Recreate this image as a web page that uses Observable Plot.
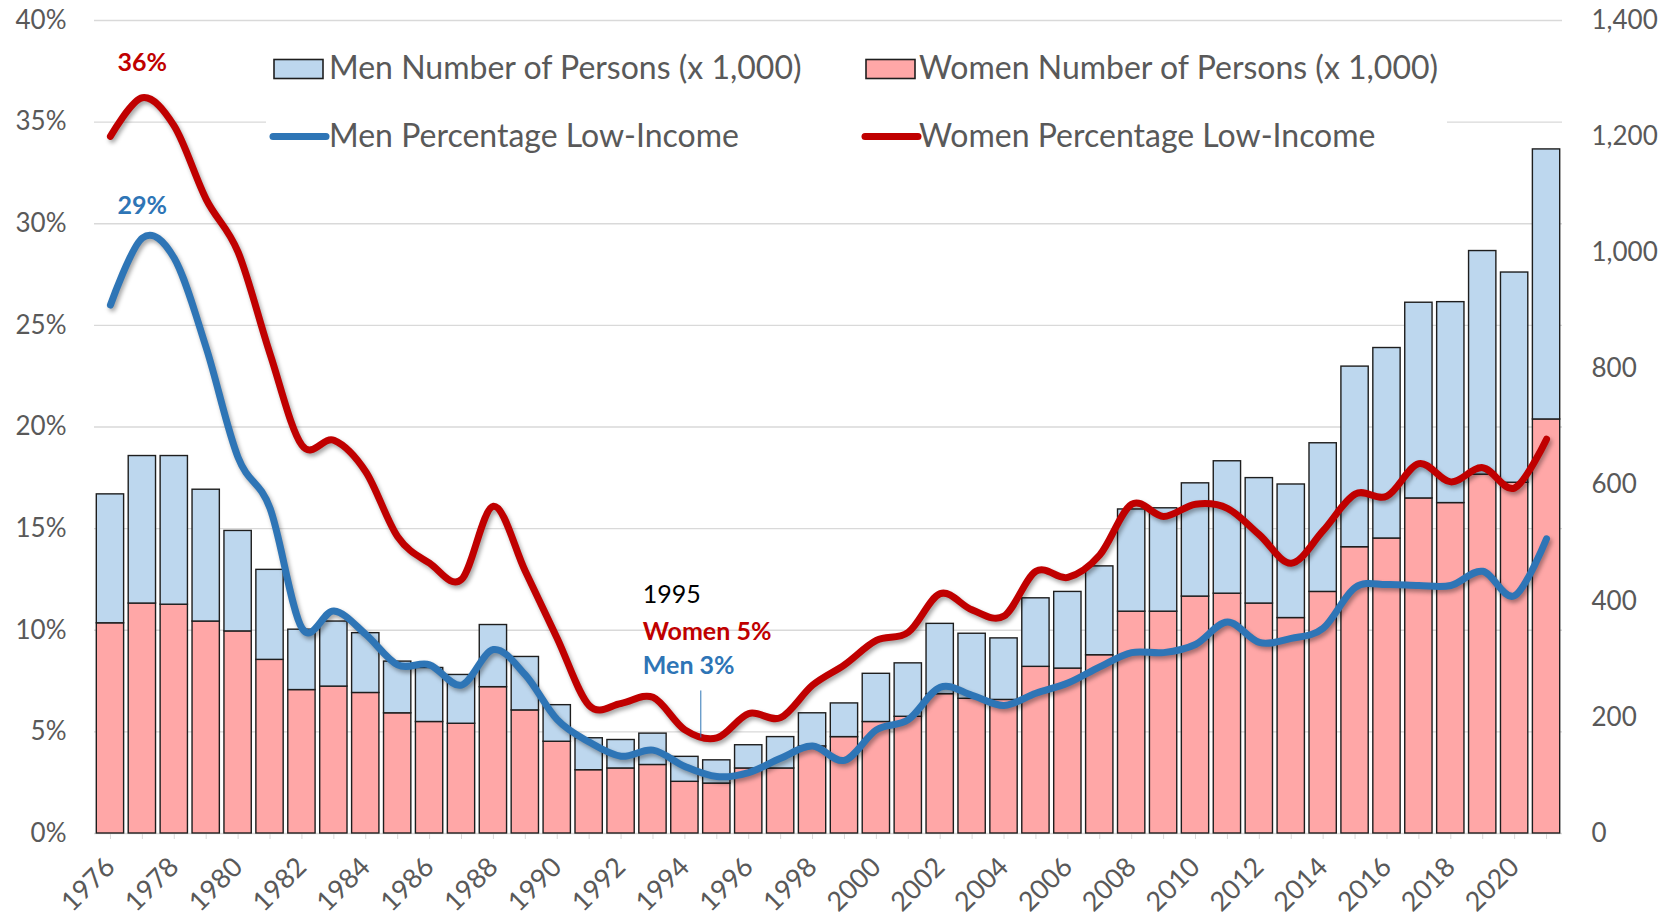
<!DOCTYPE html>
<html>
<head>
<meta charset="utf-8">
<script src="https://cdn.jsdelivr.net/npm/d3@7"></script>
<script src="https://cdn.jsdelivr.net/npm/@observablehq/plot@0.6"></script>
<style>
  body { margin: 0; background: #fff; }
  #wrap { position: relative; width: 1665px; height: 917px; }
  #wrap svg g[aria-label="line"] path { filter: drop-shadow(2px 3px 2px rgba(0,0,0,0.35)); }
</style>
</head>
<body>
<div id="wrap"></div>
<script>
// ---- data ----
const years = [1976,1977,1978,1979,1980,1981,1982,1983,1984,1985,1986,1987,1988,1989,1990,1991,1992,1993,1994,1995,1996,1997,1998,1999,2000,2001,2002,2003,2004,2005,2006,2007,2008,2009,2010,2011,2012,2013,2014,2015,2016,2017,2018,2019,2020,2021];
const womenCount = [362,396,394,365,348,299,247,253,242,207, 192,189,252,212,158,109,112,118,89,86, 112,112,150,166,192,201,240,232,230,287, 284,307,382,382,408,413,396,371,416,493, 508,577,569,618,604,713];
const menCount = [222,254,256,227,173,155,104,112,103,89, 93,84,107,92,63,55,49,54,43,40, 40,54,57,58,83,92,121,112,106,118, 132,153,176,178,195,228,216,230,256,311, 328,337,346,385,362,465];
const womenPct = [34.3,36.2,34.8,31.2,28.6,23.6,19.1,19.35,17.8,14.6, 13.3,12.5,16.1,12.9,9.6,6.3,6.4,6.7,5.1,4.7, 5.9,5.7,7.3,8.3,9.5,9.9,11.8,11.0,10.7,12.9, 12.6,13.7,16.2,15.6,16.2,16.0,14.7,13.3,14.9,16.7, 16.6,18.2,17.3,18.0,17.0,19.4];
const menPct = [26.0,29.3,28.3,23.9,18.5,16.0,10.1,10.95,9.8,8.3, 8.3,7.3,9.05,7.8,5.6,4.5,3.8,4.1,3.3,2.8, 3.0,3.7,4.3,3.6,5.1,5.6,7.2,6.8,6.3,6.9, 7.4,8.2,8.9,8.9,9.3,10.4,9.4,9.6,10.1,12.1, 12.25,12.2,12.2,12.9,11.7,14.5];
const leftTicks = [0,5,10,15,20,25,30,35,40];
const rightTicks = [0,200,400,600,800,1000,1200,1400];
const labelYears = [1976,1978,1980,1982,1984,1986,1988,1990,1992,1994,1996,1998,2000,2002,2004,2006,2008,2010,2012,2014,2016,2018,2020];
const legendBarLabels = ["Men Number of Persons (x 1,000)", "Women Number of Persons (x 1,000)"];
const legendLineLabels = ["Men Percentage Low-Income", "Women Percentage Low-Income"];
const noteYear = 1995;

// ---- styles ----
const menFill = "#BDD7EE", womenFill = "#FFA7A7";
const menColor = "#2E75B6", womenColor = "#C00000";
const grey = "#595959";
const font = "Lato, 'Open Sans', sans-serif";

// ---- derived tables ----
const pctMax = 40, countMax = 1400;
const toPct = c => c * pctMax / countMax;
const bars = years.flatMap((year, i) => [
  {year, sex: "Women", y1: 0, y2: toPct(womenCount[i])},
  {year, sex: "Men", y1: toPct(womenCount[i]), y2: toPct(womenCount[i] + menCount[i])}
]);
const pts = years.map((year, i) => ({year, women: womenPct[i], men: menPct[i]}));
const iW = womenPct.indexOf(d3.max(womenPct));
const iM = menPct.indexOf(d3.max(menPct));
const note = pts[years.indexOf(noteYear)];

const chart = Plot.plot({
  width: 1665,
  height: 917,
  marginLeft: 94,
  marginRight: 103,
  marginTop: 20,
  marginBottom: 84,
  x: {domain: [years[0] - 0.5, years[years.length - 1] + 0.5], axis: null, label: null},
  y: {domain: [0, pctMax], axis: null, label: null},
  style: {fontFamily: font, color: grey, background: "#fff", overflow: "visible"},
  marks: [
    Plot.gridY(leftTicks, {stroke: "#d9d9d9", strokeOpacity: 1, strokeWidth: 1.3}),
    Plot.axisY(leftTicks, {anchor: "left", tickSize: 0, tickPadding: 28, tickFormat: d => d + "%", fontSize: 26, label: null}),
    Plot.axisY(rightTicks.map(toPct), {anchor: "right", tickSize: 0, tickPadding: 29, fontSize: 26, label: null,
      tickFormat: v => d3.format(",")(Math.round(v * countMax / pctMax))}),
    Plot.axisX(years, {anchor: "bottom", tickSize: 6, stroke: "#d9d9d9", tickFormat: () => "", label: null}),
    Plot.axisX(labelYears, {anchor: "bottom", tickSize: 0, tickRotate: -45, tickPadding: 29, fontSize: 27, label: null, tickFormat: d => String(d)}),
    Plot.rectY(bars, {x1: d => d.year - 0.5, x2: d => d.year + 0.5, y1: "y1", y2: "y2",
      fill: d => d.sex === "Men" ? menFill : womenFill, stroke: "#1e1e1e", strokeWidth: 1.4,
      insetLeft: 2.3, insetRight: 2.3}),
    Plot.lineY(pts, {x: "year", y: "men", stroke: menColor, strokeWidth: 7, curve: "cardinal", strokeLinecap: "round", strokeLinejoin: "round"}),
    Plot.lineY(pts, {x: "year", y: "women", stroke: womenColor, strokeWidth: 7, curve: "cardinal", strokeLinecap: "round", strokeLinejoin: "round"}),
    Plot.text([pts[iW]], {x: "year", y: "women", text: d => Math.round(d.women) + "%", dy: -35, fill: womenColor, fontWeight: "bold", fontSize: 25}),
    Plot.text([pts[iM]], {x: "year", y: "men", text: d => Math.round(d.men) + "%", dy: -32, fill: menColor, fontWeight: "bold", fontSize: 25}),
    Plot.ruleX([note], {x: "year", y1: "women", y2: "women", insetBottom: 47, dx: -16, stroke: menColor, strokeWidth: 1}),
    Plot.text([note], {x: "year", y: "women", text: d => String(d.year), dx: -74, dy: -143, textAnchor: "start", fill: "#000", fontSize: 25}),
    Plot.text([note], {x: "year", y: "women", text: d => "Women " + Math.round(d.women) + "%", dx: -74, dy: -106, textAnchor: "start", fill: womenColor, fontWeight: "bold", fontSize: 25}),
    Plot.text([note], {x: "year", y: "women", text: d => "Men " + Math.round(d.men) + "%", dx: -74, dy: -72, textAnchor: "start", fill: menColor, fontWeight: "bold", fontSize: 25})
  ]
});

document.getElementById("wrap").appendChild(chart);

// ---- legend (inside the plot area, white box over the grid) ----
const svg = d3.select(chart);
const lg = svg.append("g").attr("font-family", font).attr("font-size", 32).attr("fill", grey).attr("text-anchor", "start");
lg.append("rect").attr("x", 266).attr("y", 34).attr("width", 1181).attr("height", 140).attr("fill", "#fff");
const colX = [274, 866];
const textX = [329, 919];
const barFills = [menFill, womenFill];
const lineCols = [menColor, womenColor];
legendBarLabels.forEach((label, i) => {
  lg.append("rect").attr("x", colX[i]).attr("y", 59.5).attr("width", 49).attr("height", 19)
    .attr("fill", barFills[i]).attr("stroke", "#1e1e1e").attr("stroke-width", 1.6);
  lg.append("text").attr("x", textX[i]).attr("y", 79).attr("text-anchor", "start").text(label);
});
legendLineLabels.forEach((label, i) => {
  lg.append("line").attr("x1", colX[i] - 1).attr("x2", colX[i] + 52).attr("y1", 136.5).attr("y2", 136.5)
    .attr("stroke", lineCols[i]).attr("stroke-width", 7).attr("stroke-linecap", "round");
  lg.append("text").attr("x", textX[i]).attr("y", 146.5).attr("text-anchor", "start").text(label);
});
</script>
</body>
</html>
